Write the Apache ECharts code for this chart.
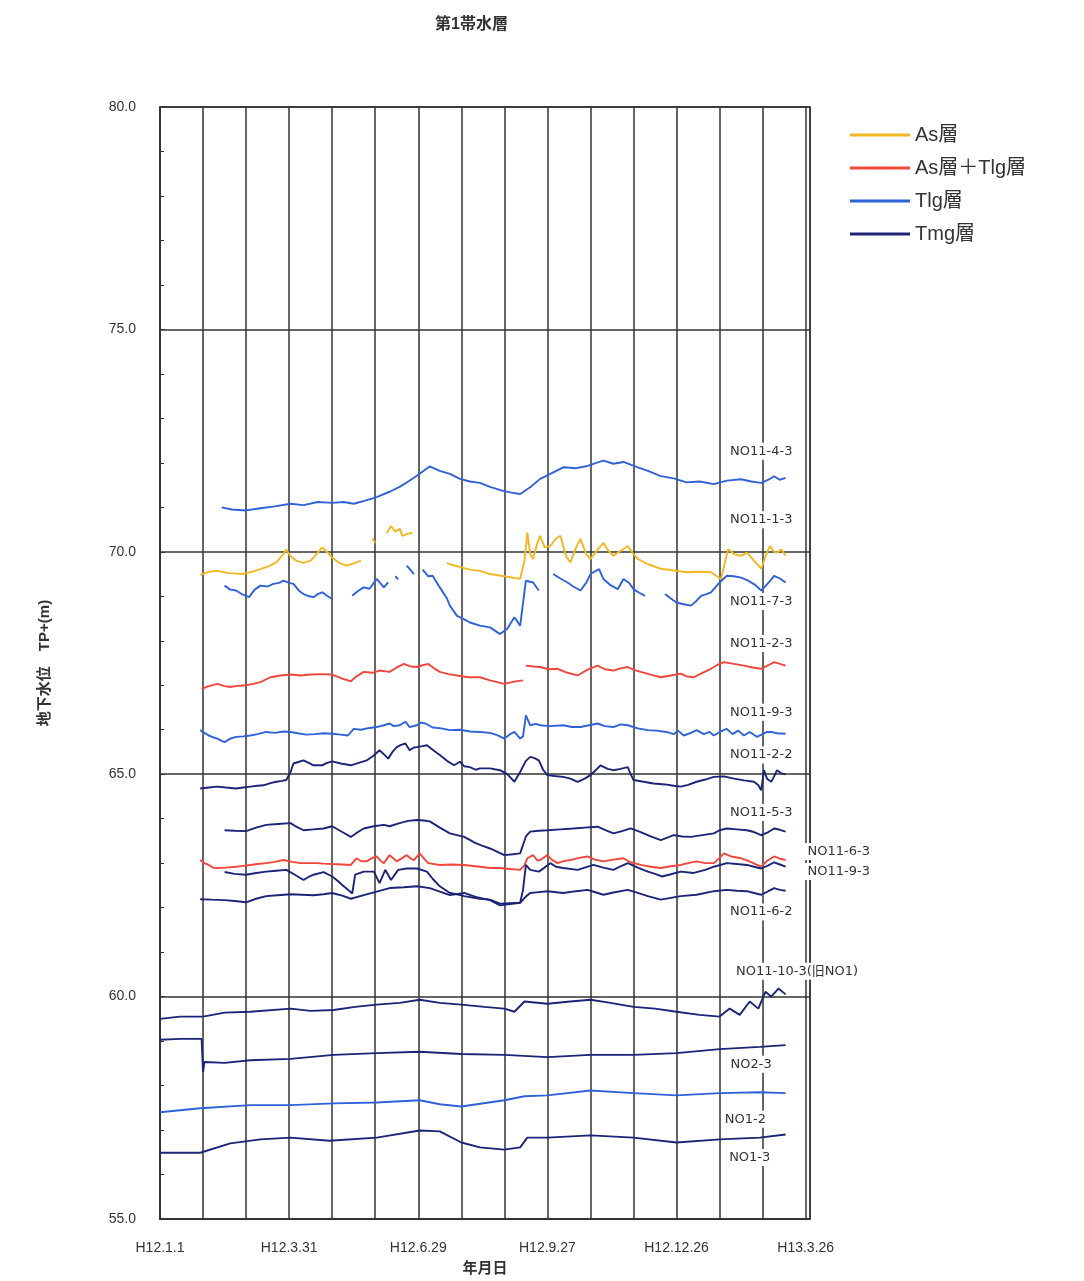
<!DOCTYPE html>
<html>
<head>
<meta charset="utf-8">
<script src="https://cdn.jsdelivr.net/npm/echarts@6/dist/echarts.min.js"></script>
<style>
  html, body { margin: 0; padding: 0; background: #fff; }
  #main { width: 1084px; height: 1281px; }
</style>
</head>
<body>
<div id="main"></div>
<script>
// x = days from H12.1.1, y = groundwater level TP+(m); null breaks a line
var xTickDays = [0, 90, 180, 270, 360, 450];
var xTickLabels = ['H12.1.1', 'H12.3.31', 'H12.6.29', 'H12.9.27', 'H12.12.26', 'H13.3.26'];
var legendNames = ['As層', 'As層＋Tlg層', 'Tlg層', 'Tmg層'];

var no11_4_3 = [[43,71.0],[50,70.95],[60,70.93],[70,70.98],[80,71.02],[91,71.08],[100,71.05],[110,71.12],[120,71.1],[128,71.12],[135,71.08],[143,71.15],[151,71.23],[160,71.35],[167,71.46],[173,71.58],[179,71.71],[185,71.85],[188,71.92],[195,71.82],[202,71.75],[209,71.64],[216,71.58],[223,71.55],[230,71.46],[239,71.37],[245,71.33],[251,71.3],[258,71.45],[265,71.64],[272,71.75],[281,71.9],[290,71.88],[298,71.93],[304,72.0],[309,72.05],[316,71.98],[323,72.02],[333,71.9],[340,71.82],[349,71.7],[358,71.65],[367,71.56],[376,71.58],[386,71.52],[395,71.6],[405,71.63],[412,71.58],[419,71.55],[424,71.62],[428,71.7],[432,71.62],[436,71.66]];

var no11_1_3 = [[28,69.48],[34,69.55],[40,69.57],[48,69.52],[58,69.5],[65,69.56],[70,69.61],[76,69.68],[81,69.76],[86,69.95],[88,70.05],[91,69.9],[95,69.8],[100,69.75],[105,69.8],[110,69.98],[113,70.1],[117,69.98],[120,69.87],[125,69.75],[130,69.69],[135,69.74],[140,69.8],[143,null],[148,70.3],[150,70.2],[152,null],[158,70.42],[161,70.58],[164,70.45],[167,70.52],[169,70.36],[172,70.4],[176,70.43],[178,null],[200,69.75],[202,69.72],[210,69.65],[216,69.6],[223,69.57],[230,69.5],[240,69.45],[251,69.39],[254,69.8],[256,70.43],[258,69.95],[260,69.84],[263,70.2],[265,70.36],[268,70.1],[272,70.13],[276,70.3],[279,70.36],[283,69.9],[286,69.76],[290,70.1],[293,70.29],[297,69.95],[300,69.84],[305,70.05],[309,70.2],[313,70.0],[316,69.91],[320,70.0],[326,70.13],[330,69.95],[333,69.84],[340,69.72],[349,69.62],[358,69.58],[367,69.54],[376,69.55],[384,69.54],[391,69.39],[394,69.8],[396,70.06],[400,69.95],[405,69.91],[409,69.98],[414,69.8],[419,69.62],[422,69.9],[425,70.13],[428,70.0],[430,69.98],[433,70.05],[436,69.91]];

var no11_7_3 = [[45,69.24],[49,69.15],[53,69.13],[57,69.05],[62,68.98],[66,69.15],[70,69.24],[75,69.22],[79,69.28],[83,69.3],[86,69.35],[90,69.3],[93,69.28],[97,69.12],[100,69.05],[104,69.0],[107,68.98],[110,69.05],[113,69.09],[117,69.0],[120,68.94],[122,null],[134,69.01],[138,69.12],[142,69.2],[146,69.17],[149,69.3],[151,69.39],[154,69.28],[156,69.2],[159,69.31],[161,null],[164,69.45],[166,69.38],[168,null],[172,69.69],[177,69.5],[180,null],[183,69.6],[187,69.45],[190,69.46],[195,69.2],[200,68.95],[202,68.79],[207,68.56],[212,68.48],[216,68.41],[223,68.34],[230,68.3],[237,68.15],[242,68.27],[247,68.53],[251,68.34],[255,69.35],[260,69.31],[264,69.13],[267,null],[274,69.5],[279,69.4],[284,69.31],[288,69.22],[293,69.13],[297,69.3],[300,69.5],[306,69.61],[309,69.39],[314,69.25],[319,69.16],[323,69.39],[327,69.3],[330,69.16],[334,69.08],[338,69.01],[341,null],[352,69.05],[356,68.95],[360,68.86],[365,68.82],[370,68.79],[374,68.9],[377,69.01],[381,69.05],[384,69.09],[387,69.2],[390,69.31],[395,69.46],[400,69.45],[405,69.42],[410,69.35],[415,69.25],[419,69.13],[424,69.3],[428,69.46],[432,69.4],[436,69.31]];

var no11_2_3 = [[29,66.92],[34,66.98],[40,67.03],[45,66.98],[49,66.96],[55,66.99],[60,67.0],[65,67.03],[70,67.07],[77,67.18],[84,67.22],[91,67.24],[98,67.22],[105,67.24],[112,67.25],[120,67.24],[127,67.15],[133,67.09],[137,67.2],[142,67.3],[148,67.28],[153,67.33],[160,67.3],[165,67.4],[170,67.48],[175,67.42],[179,67.41],[183,67.45],[187,67.48],[191,67.38],[195,67.3],[201,67.25],[207,67.22],[215,67.18],[223,67.18],[230,67.11],[240,67.03],[247,67.08],[253,67.11],[254,null],[255,67.44],[260,67.42],[265,67.41],[271,67.36],[277,67.37],[284,67.28],[291,67.22],[298,67.35],[305,67.44],[310,67.36],[316,67.33],[321,67.38],[326,67.41],[330,67.35],[335,67.3],[342,67.24],[349,67.18],[356,67.22],[363,67.26],[367,67.2],[372,67.18],[378,67.28],[384,67.37],[388,67.45],[393,67.52],[400,67.48],[407,67.44],[413,67.4],[419,67.37],[424,67.45],[428,67.52],[432,67.48],[436,67.44]];

var no11_9_3 = [[28,65.99],[31,65.93],[34,65.87],[37,65.83],[40,65.8],[43,65.75],[45,65.72],[49,65.8],[53,65.84],[58,65.85],[63,65.87],[68,65.9],[74,65.95],[80,65.93],[86,65.96],[91,65.95],[96,65.92],[102,65.89],[108,65.9],[114,65.92],[120,65.91],[126,65.89],[131,65.87],[135,66.02],[140,66.0],[146,66.04],[151,66.06],[156,66.1],[160,66.14],[163,66.08],[167,66.1],[171,66.18],[174,66.06],[179,66.1],[182,66.16],[185,66.14],[190,66.05],[196,66.03],[202,65.99],[209,66.0],[216,65.96],[223,65.95],[230,65.93],[235,65.88],[240,65.8],[244,65.9],[247,65.95],[251,65.8],[253,65.85],[255,66.32],[258,66.1],[262,66.13],[265,66.1],[272,66.08],[281,66.1],[287,66.06],[293,66.06],[299,66.1],[305,66.14],[310,66.08],[316,66.06],[321,66.12],[326,66.1],[333,66.03],[340,65.99],[346,65.98],[353,65.95],[358,65.9],[361,65.98],[365,65.87],[370,65.93],[374,65.99],[379,65.9],[383,65.95],[386,65.87],[390,65.95],[395,66.02],[399,65.9],[403,65.98],[407,65.87],[411,65.95],[416,65.84],[420,65.9],[423,65.95],[426,65.95],[430,65.92],[436,65.91]];

var no11_2_2 = [[28,64.68],[34,64.7],[40,64.72],[46,64.7],[53,64.68],[58,64.7],[63,64.72],[68,64.74],[72,64.75],[77,64.8],[81,64.83],[85,64.85],[88,64.87],[91,65.05],[93,65.24],[97,65.28],[100,65.31],[104,65.25],[107,65.2],[113,65.2],[116,65.25],[120,65.29],[126,65.24],[133,65.2],[138,65.25],[144,65.31],[149,65.42],[153,65.54],[156,65.45],[159,65.35],[162,65.5],[165,65.61],[168,65.66],[171,65.69],[174,65.54],[177,65.6],[179,65.61],[183,65.63],[186,65.65],[190,65.55],[195,65.43],[200,65.3],[205,65.2],[209,65.28],[212,65.18],[216,65.16],[220,65.1],[223,65.13],[230,65.13],[237,65.09],[242,65.0],[247,64.83],[251,65.05],[255,65.3],[258,65.39],[261,65.36],[264,65.31],[267,65.1],[270,64.98],[275,64.96],[281,64.94],[286,64.9],[291,64.83],[296,64.9],[300,64.98],[304,65.1],[307,65.2],[312,65.12],[316,65.09],[321,65.12],[326,65.16],[328,65.0],[330,64.87],[337,64.83],[344,64.79],[352,64.77],[358,64.74],[363,64.72],[368,64.76],[374,64.83],[380,64.88],[386,64.94],[393,64.95],[400,64.9],[407,64.86],[414,64.83],[417,64.75],[419,64.64],[421,65.09],[423,64.9],[426,64.83],[428,64.95],[430,65.09],[433,65.02],[436,65.0]];

var no11_5_3 = [[45,63.74],[52,63.73],[60,63.72],[67,63.8],[74,63.86],[82,63.88],[91,63.9],[95,63.82],[100,63.74],[107,63.76],[114,63.78],[120,63.83],[127,63.7],[133,63.59],[138,63.7],[142,63.78],[149,63.83],[156,63.86],[160,63.83],[167,63.9],[173,63.95],[179,63.97],[184,63.96],[188,63.94],[195,63.8],[202,63.67],[212,63.59],[220,63.45],[223,63.41],[230,63.33],[240,63.18],[246,63.2],[251,63.22],[255,63.6],[258,63.71],[264,63.73],[270,63.74],[279,63.76],[288,63.78],[296,63.8],[305,63.82],[310,63.75],[316,63.67],[322,63.72],[328,63.78],[335,63.7],[342,63.6],[349,63.52],[354,63.58],[358,63.63],[364,63.6],[370,63.59],[378,63.63],[386,63.67],[390,63.74],[395,63.78],[402,63.76],[409,63.74],[414,63.7],[419,63.63],[424,63.7],[428,63.78],[432,63.75],[436,63.71]];

var no11_6_3 = [[28,63.07],[31,63.0],[34,62.96],[37,62.9],[40,62.89],[46,62.9],[53,62.92],[58,62.94],[63,62.96],[68,62.98],[74,63.0],[80,63.03],[86,63.07],[92,63.03],[98,63.0],[104,63.0],[109,63.0],[114,62.99],[120,62.98],[127,62.97],[133,62.96],[137,63.11],[140,63.05],[144,63.04],[148,63.12],[151,63.15],[154,63.05],[156,63.0],[160,63.18],[163,63.1],[165,63.04],[169,63.12],[172,63.18],[175,63.1],[177,63.07],[181,63.22],[184,63.1],[187,63.0],[195,62.96],[203,62.97],[212,62.96],[223,62.92],[230,62.89],[237,62.89],[244,62.87],[251,62.85],[254,62.95],[256,63.11],[260,63.18],[263,63.06],[265,63.07],[270,63.18],[273,63.08],[277,63.0],[282,63.05],[286,63.07],[292,63.12],[298,63.15],[303,63.08],[309,63.04],[316,63.08],[323,63.11],[328,63.02],[335,62.96],[342,62.92],[349,62.89],[356,62.93],[363,62.96],[368,63.0],[374,63.04],[380,63.0],[386,63.0],[390,63.12],[393,63.22],[398,63.15],[405,63.11],[410,63.05],[415,62.98],[419,62.92],[423,63.05],[428,63.15],[432,63.1],[436,63.07]];

var no11_9_3b = [[45,62.8],[52,62.76],[60,62.74],[67,62.78],[74,62.81],[81,62.83],[88,62.85],[94,62.74],[100,62.62],[104,62.7],[107,62.74],[114,62.8],[120,62.7],[124,62.6],[127,62.51],[131,62.4],[134,62.32],[136,62.74],[142,62.81],[149,62.81],[153,62.55],[157,62.85],[161,62.62],[166,62.85],[172,62.88],[179,62.88],[186,62.81],[190,62.65],[195,62.48],[202,62.33],[207,62.3],[212,62.26],[223,62.2],[230,62.18],[237,62.09],[244,62.1],[251,62.11],[253,62.4],[255,62.96],[258,62.85],[264,62.81],[268,62.9],[272,63.0],[276,62.92],[281,62.89],[291,62.85],[296,62.9],[302,62.96],[309,62.9],[316,62.85],[321,62.93],[326,63.0],[333,62.9],[340,62.81],[345,62.76],[350,62.7],[356,62.75],[363,62.81],[372,62.78],[380,62.85],[386,62.92],[395,63.0],[402,62.98],[409,62.96],[414,62.92],[419,62.88],[424,62.95],[428,63.02],[432,62.97],[436,62.92]];

var no11_6_2 = [[28,62.19],[36,62.18],[45,62.17],[52,62.15],[60,62.12],[67,62.2],[74,62.26],[82,62.28],[91,62.3],[99,62.29],[107,62.28],[114,62.3],[120,62.33],[127,62.27],[133,62.2],[142,62.28],[151,62.36],[160,62.44],[170,62.46],[179,62.48],[188,62.44],[195,62.36],[202,62.28],[212,62.33],[220,62.24],[230,62.17],[237,62.05],[244,62.08],[251,62.11],[255,62.25],[258,62.33],[264,62.35],[270,62.37],[281,62.33],[290,62.37],[298,62.4],[304,62.34],[309,62.29],[316,62.34],[326,62.4],[333,62.33],[340,62.26],[349,62.18],[356,62.22],[363,62.26],[374,62.29],[386,62.37],[395,62.4],[402,62.38],[409,62.37],[414,62.33],[419,62.29],[424,62.37],[428,62.44],[432,62.4],[436,62.38]];

var no11_10_3 = [[0,59.5],[14,59.55],[30,59.55],[45,59.64],[63,59.66],[91,59.73],[105,59.68],[121,59.7],[136,59.77],[151,59.82],[167,59.86],[181,59.93],[195,59.86],[210,59.82],[226,59.77],[240,59.73],[247,59.66],[254,59.89],[270,59.84],[286,59.89],[300,59.93],[314,59.86],[330,59.77],[345,59.73],[360,59.66],[376,59.59],[390,59.55],[397,59.73],[404,59.59],[411,59.89],[417,59.73],[422,60.11],[426,60.0],[431,60.18],[436,60.05]];

var no2_3 = [[0,59.03],[14,59.05],[29,59.05],[30,58.3],[31,58.53],[45,58.51],[63,58.57],[91,58.6],[121,58.69],[151,58.73],[181,58.76],[210,58.71],[240,58.69],[270,58.64],[300,58.69],[330,58.69],[360,58.73],[390,58.82],[418,58.87],[436,58.91]];

var no1_2 = [[0,57.4],[28,57.49],[63,57.56],[91,57.56],[121,57.6],[151,57.62],[181,57.67],[195,57.58],[210,57.53],[240,57.67],[254,57.76],[270,57.78],[300,57.89],[330,57.83],[360,57.78],[390,57.83],[418,57.85],[436,57.83]];

var no1_3 = [[0,56.49],[28,56.49],[49,56.7],[70,56.79],[91,56.83],[118,56.76],[151,56.83],[181,56.99],[195,56.97],[210,56.72],[223,56.61],[240,56.56],[251,56.61],[256,56.83],[270,56.83],[300,56.88],[330,56.83],[360,56.72],[390,56.79],[418,56.83],[436,56.9]];

// well labels: [text, day, level]
var wellLabels = [
  ['NO11-4-3', 419, 72.26], ['NO11-1-3', 419, 70.72], ['NO11-7-3', 419, 68.88],
  ['NO11-2-3', 419, 67.94], ['NO11-9-3', 419, 66.39], ['NO11-2-2', 419, 65.43],
  ['NO11-5-3', 419, 64.14], ['NO11-6-3', 473, 63.26], ['NO11-9-3', 473, 62.81],
  ['NO11-6-2', 419, 61.9], ['NO11-10-3(旧NO1)', 444, 60.57], ['NO2-3', 412, 58.48],
  ['NO1-2', 408, 57.24], ['NO1-3', 411, 56.38]
];

var groupColors = {
  'As層': '#f2b824',
  'As層＋Tlg層': '#f2463a',
  'Tlg層': '#2f62d8',
  'Tmg層': '#1c2478'
};

var wells = [
  ['Tlg層', no11_4_3], ['As層', no11_1_3], ['Tlg層', no11_7_3], ['As層＋Tlg層', no11_2_3],
  ['Tlg層', no11_9_3], ['Tmg層', no11_2_2], ['Tmg層', no11_5_3], ['As層＋Tlg層', no11_6_3],
  ['Tmg層', no11_9_3b], ['Tmg層', no11_6_2], ['Tmg層', no11_10_3], ['Tmg層', no2_3],
  ['Tlg層', no1_2], ['Tmg層', no1_3]
];

var chart = echarts.init(document.getElementById('main'));
var font = '"Liberation Sans", "Noto Sans CJK JP", sans-serif';

var series = wells.map(function (w) {
  return {
    name: w[0],
    type: 'line',
    data: w[1],
    showSymbol: false,
    symbol: 'none',
    connectNulls: false,
    color: groupColors[w[0]],
    lineStyle: { width: 1.9, color: groupColors[w[0]] },
    animation: false
  };
});

var option = {
  backgroundColor: '#fff',
  animation: false,
  title: {
    text: '第1帯水層',
    left: 430,
    top: 12,
    textStyle: { fontSize: 16, fontWeight: 'bold', color: '#333', fontFamily: font }
  },
  legend: {
    data: legendNames,
    orient: 'vertical',
    left: 845,
    top: 120,
    icon: 'rect',
    itemWidth: 60,
    itemHeight: 3,
    itemGap: 13,
    textStyle: { fontSize: 20, color: '#333', fontFamily: font }
  },
  grid: {
    left: 160,
    right: 274,
    top: 107,
    bottom: 61,
    show: true,
    borderColor: '#333',
    borderWidth: 1.5
  },
  xAxis: {
    type: 'value',
    min: 0,
    max: 453,
    interval: 30,
    name: '年月日',
    nameLocation: 'middle',
    nameGap: 42,
    nameTextStyle: { fontSize: 15, fontWeight: 'bold', color: '#333', fontFamily: font },
    axisLine: { show: true, lineStyle: { color: '#333', width: 1.5 } },
    axisTick: { show: false },
    axisLabel: {
      margin: 22,
      fontSize: 14,
      color: '#333',
      fontFamily: font,
      formatter: function (v) {
        var i = xTickDays.indexOf(v);
        return i >= 0 ? xTickLabels[i] : '';
      }
    },
    splitLine: { show: true, lineStyle: { color: '#333', width: 1.5 } }
  },
  yAxis: {
    type: 'value',
    min: 55,
    max: 80,
    interval: 5,
    name: '地下水位　TP+(m)',
    nameLocation: 'middle',
    nameGap: 108,
    nameRotate: 90,
    nameTextStyle: { fontSize: 15, fontWeight: 'bold', color: '#333', fontFamily: font },
    axisLine: { show: true, lineStyle: { color: '#333', width: 1.5 } },
    axisTick: { show: true, inside: true, length: 5, lineStyle: { color: '#333' } },
    minorTick: { show: true, splitNumber: 5, length: 4, lineStyle: { color: '#333' } },
    axisLabel: {
      margin: 24,
      fontSize: 14,
      color: '#333',
      fontFamily: font,
      formatter: function (v) { return v.toFixed(1); }
    },
    splitLine: { show: true, lineStyle: { color: '#333', width: 1.5 } }
  },
  series: series
};

chart.setOption(option);

// well name labels placed at data coordinates, white boxes over the grid
var labelGraphics = wellLabels.map(function (l) {
  var p = chart.convertToPixel({ gridIndex: 0 }, [l[1], l[2]]);
  return {
    type: 'text',
    x: p[0],
    y: p[1],
    z: 100,
    style: {
      text: l[0],
      fontSize: 13,
      fontFamily: '"DejaVu Sans", "Noto Sans CJK JP", sans-serif',
      fill: '#333',
      align: 'center',
      verticalAlign: 'middle',
      backgroundColor: '#fff',
      padding: [2, 3]
    }
  };
});
chart.setOption({ graphic: labelGraphics });
</script>
</body>
</html>
